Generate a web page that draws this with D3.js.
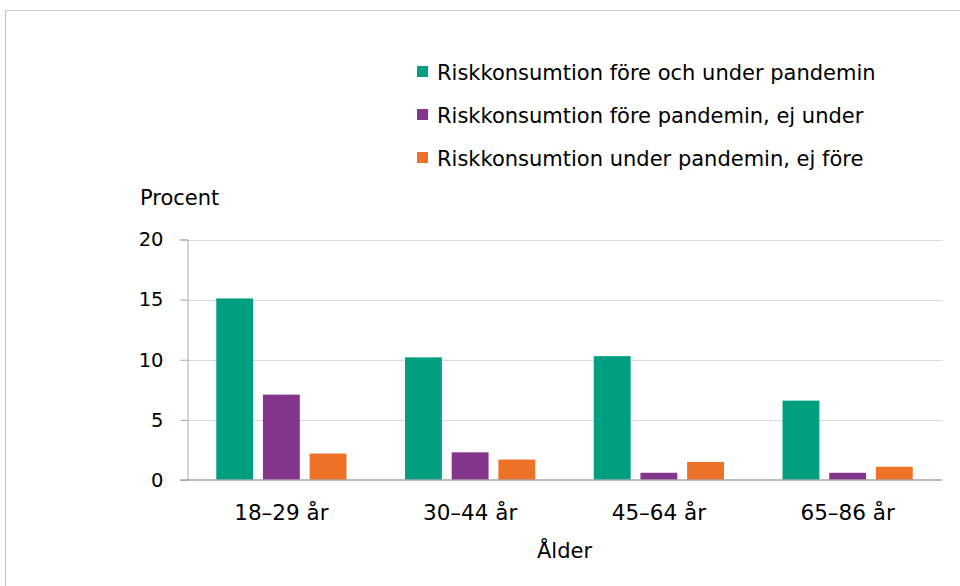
<!DOCTYPE html>
<html>
<head>
<meta charset="utf-8">
<script src="https://cdn.jsdelivr.net/npm/d3@7"></script>
<style>
  body { margin: 0; background: #fff; }
  text { font-family: "DejaVu Sans", sans-serif; fill: #000; }
</style>
</head>
<body>
<div id="chart"></div>
<script>
var categories = ["18–29 år", "30–44 år", "45–64 år", "65–86 år"]
var seriesNames = [
  "Riskkonsumtion före och under pandemin",
  "Riskkonsumtion före pandemin, ej under",
  "Riskkonsumtion under pandemin, ej före"
]
var beforeAndDuring = [15.1, 10.2, 10.3, 6.6]
var beforeNotDuring = [7.1, 2.3, 0.6, 0.6]
var duringNotBefore = [2.2, 1.7, 1.5, 1.1]
var yTicks = [0, 5, 10, 15, 20]
var colors = ["#009f7f", "#83368b", "#ee7128"]

var series = [beforeAndDuring, beforeNotDuring, duringNotBefore]

var width = 960, height = 586
var margin = { top: 239.5, right: 18, bottom: 106, left: 187 }

var svg = d3.select("#chart").append("svg")
  .attr("width", width)
  .attr("height", height)

// outer frame
svg.append("rect")
  .attr("x", 5.5).attr("y", 10.5)
  .attr("width", 1000).attr("height", 1000)
  .attr("fill", "none")
  .attr("stroke", "#c6c6c6")

var x0 = d3.scaleBand()
  .domain(categories)
  .range([margin.left, width - margin.right])
  .paddingInner(0.31)
  .paddingOuter(0.155)

var x1 = d3.scaleBand()
  .domain(d3.range(series.length))
  .range([0, x0.bandwidth()])
  .paddingInner(0.21)

var y = d3.scaleLinear()
  .domain([0, 20])
  .range([height - margin.bottom, margin.top])

// gridlines
svg.append("g")
  .selectAll("line")
  .data(yTicks.filter(function (d) { return d > 0 }))
  .enter().append("line")
  .attr("x1", margin.left).attr("x2", width - margin.right)
  .attr("y1", function (d) { return Math.round(y(d)) + 0.5 })
  .attr("y2", function (d) { return Math.round(y(d)) + 0.5 })
  .attr("stroke", "#d9d9d9")

// bars
var groups = svg.append("g")
  .selectAll("g")
  .data(categories)
  .enter().append("g")
  .attr("transform", function (d) { return "translate(" + x0(d) + ",0)" })

groups.selectAll("rect")
  .data(function (d, i) { return series.map(function (s, j) { return { s: j, v: s[i] } }) })
  .enter().append("rect")
  .attr("x", function (d) { return x1(d.s) })
  .attr("width", x1.bandwidth())
  .attr("y", function (d) { return y(d.v) })
  .attr("height", function (d) { return y(0) - y(d.v) })
  .attr("fill", function (d) { return colors[d.s] })

// y axis
var yAxis = d3.axisLeft(y)
  .tickValues(yTicks)
  .tickSize(7)
  .tickPadding(17)

var yg = svg.append("g")
  .attr("transform", "translate(" + (margin.left + 0.5) + ",0)")
  .call(yAxis)
yg.select(".domain").attr("stroke", "#a6a6a6")
yg.selectAll(".tick line").attr("stroke", "#a6a6a6")
yg.selectAll(".tick text")
  .style("font-family", "DejaVu Sans")
  .style("font-size", "19.5px")
  .attr("fill", "#000")

// baseline
svg.append("line")
  .attr("x1", margin.left - 7).attr("x2", width - margin.right)
  .attr("y1", y(0)).attr("y2", y(0))
  .attr("stroke", "#a6a6a6")
  .attr("stroke-width", 1.6)

// x axis labels
var xAxis = d3.axisBottom(x0).tickSize(0).tickPadding(25)
var xg = svg.append("g")
  .attr("transform", "translate(0," + y(0) + ")")
  .call(xAxis)
xg.select(".domain").remove()
xg.selectAll(".tick text")
  .style("font-family", "DejaVu Sans")
  .style("font-size", "21.5px")
  .attr("fill", "#000")

svg.append("text")
  .attr("x", (margin.left + width - margin.right) / 2)
  .attr("y", 558)
  .attr("text-anchor", "middle")
  .style("font-size", "21px")
  .text("Ålder")

svg.append("text")
  .attr("x", 140)
  .attr("y", 205)
  .style("font-size", "21px")
  .text("Procent")

// legend
var legend = svg.append("g")
  .selectAll("g")
  .data(seriesNames)
  .enter().append("g")
  .attr("transform", function (d, i) { return "translate(417," + (72 + i * 43) + ")" })

legend.append("rect")
  .attr("x", 0).attr("y", -6)
  .attr("width", 11).attr("height", 11)
  .attr("fill", function (d, i) { return colors[i] })

legend.append("text")
  .attr("x", 20)
  .attr("y", 7.5)
  .style("font-size", "21px")
  .text(function (d) { return d })
</script>
</body>
</html>
